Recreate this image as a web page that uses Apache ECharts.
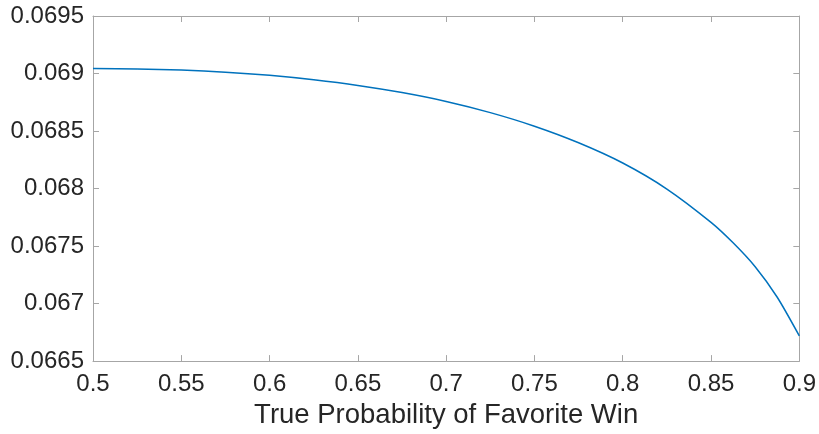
<!DOCTYPE html>
<html>
<head>
<meta charset="utf-8">
<script src="https://cdn.jsdelivr.net/npm/echarts@6/dist/echarts.min.js"></script>
<style>html,body{margin:0;padding:0;background:#fff}#c{width:819px;height:434px}</style>
</head>
<body>
<div id="c"></div>
<script>
const xValues = [0.5, 0.525, 0.55, 0.575, 0.6, 0.625, 0.65, 0.675, 0.7, 0.725, 0.75, 0.775, 0.8, 0.825, 0.85, 0.8625, 0.875, 0.8875, 0.9];
const yValues = [0.069043, 0.069039, 0.069030, 0.069012, 0.068984, 0.068945, 0.068896, 0.068834, 0.068757, 0.068660, 0.068542, 0.068398, 0.068222, 0.067996, 0.067706, 0.067528, 0.067320, 0.067055, 0.066719];
const xLabel = 'True Probability of Favorite Win';

const fmt = v => String(parseFloat(v.toFixed(5)));
const axisColor = '#a6a6a6';
const textColor = '#262626';
const font = 'Liberation Sans, Arial, Helvetica, sans-serif';

const chart = echarts.init(document.getElementById('c'), null, {renderer: 'canvas'});
const baseX = {
  type: 'value', min: 0.5, max: 0.9, interval: 0.05,
  axisLine: {lineStyle: {color: axisColor, width: 1}},
  axisTick: {inside: true, length: 6, lineStyle: {color: axisColor}},
  splitLine: {show: false}
};
const baseY = {
  type: 'value', min: 0.0665, max: 0.0695, interval: 0.0005,
  axisLine: {show: true, lineStyle: {color: axisColor, width: 1}},
  axisTick: {show: true, inside: true, length: 6, lineStyle: {color: axisColor}},
  splitLine: {show: false}
};
chart.setOption({
  animation: false,
  grid: {left: 93, top: 16, width: 707, height: 346, containLabel: false},
  xAxis: [
    Object.assign({}, baseX, {
      position: 'bottom',
      axisLabel: {color: textColor, fontSize: 24, fontFamily: font, margin: 11, formatter: fmt},
      name: xLabel, nameLocation: 'middle', nameGap: 38,
      nameTextStyle: {color: textColor, fontSize: 27.5, fontFamily: font}
    }),
    Object.assign({}, baseX, {position: 'top', axisLabel: {show: false}})
  ],
  yAxis: [
    Object.assign({}, baseY, {
      position: 'left',
      axisLabel: {color: textColor, fontSize: 24, fontFamily: font, margin: 9, formatter: fmt}
    }),
    Object.assign({}, baseY, {position: 'right', axisLabel: {show: false}})
  ],
  series: [{
    type: 'line',
    data: xValues.map((x, i) => [x, yValues[i]]),
    smooth: 0.25,
    showSymbol: false,
    lineStyle: {color: '#0072BD', width: 1.5},
    itemStyle: {color: '#0072BD'}
  }]
});
</script>
</body>
</html>
